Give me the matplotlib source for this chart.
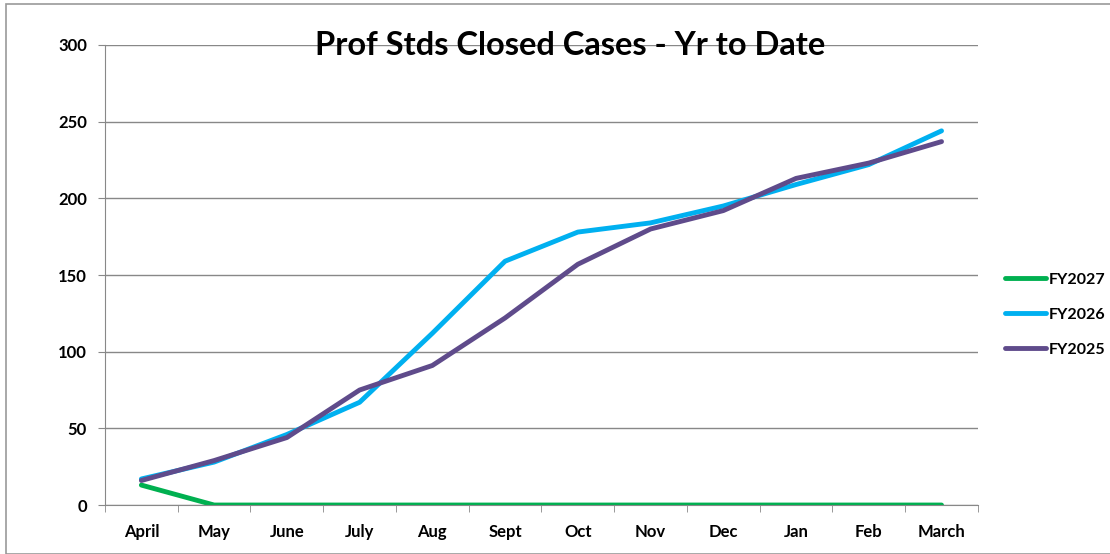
import matplotlib.pyplot as plt
from matplotlib.patches import Rectangle

months = ['April', 'May', 'June', 'July', 'Aug', 'Sept', 'Oct', 'Nov', 'Dec', 'Jan', 'Feb', 'March']
fy2027 = [13, 0, 0, 0, 0, 0, 0, 0, 0, 0, 0, 0]
fy2026 = [17, 28, 46, 67, 112, 159, 178, 184, 195, 209, 222, 244]
fy2025 = [16, 29, 44, 75, 91, 122, 157, 180, 192, 213, 223, 237]

plt.rcParams['font.family'] = ['Lato', 'DejaVu Sans']

fig = plt.figure(figsize=(11.1, 5.54), dpi=100)
ax = fig.add_axes([0.0946, 0.0884, 0.7864, 0.8304])

x = range(len(months))
ax.plot(x, fy2027, color='#00b050', lw=3.5, label='FY2027', solid_capstyle='round')
ax.plot(x, fy2026, color='#00b0f0', lw=3.5, label='FY2026', solid_capstyle='round')
ax.plot(x, fy2025, color='#5f4b8b', lw=3.5, label='FY2025', solid_capstyle='round')

ax.set_xlim(-0.5, 11.5)
ax.set_ylim(0, 300)
ax.set_yticks(range(0, 301, 50))
ax.set_xticks(list(x))
ax.set_xticklabels(months, fontsize=12, fontweight='bold')
ax.set_xticks([i - 0.5 for i in range(13)], minor=True)
ax.tick_params(axis='x', which='major', length=0, pad=14)
ax.tick_params(axis='x', which='minor', length=5, color='#888888', direction='out')
ax.tick_params(axis='y', length=5, color='#888888', direction='out', labelsize=12, pad=8)
for lab in ax.get_yticklabels():
    lab.set_fontweight('bold')

ax.grid(axis='y', color='#888888', lw=1)
ax.set_axisbelow(True)
for s in ['top', 'right']:
    ax.spines[s].set_visible(False)
for s in ['left', 'bottom']:
    ax.spines[s].set_color('#888888')

fig.text(0.514, 0.917, 'Prof Stds Closed Cases - Yr to Date', ha='center', va='center',
         fontsize=23.5, fontweight='bold')

leg = ax.legend(loc='center left', bbox_to_anchor=(1.0235, 0.414), frameon=False,
                handlelength=2.6, handletextpad=0.15, labelspacing=1.3,
                borderpad=0.2, borderaxespad=0.2,
                prop={'weight': 'bold', 'size': 11.5})

fig.patches.append(Rectangle((0.005, 0.0), 1.2, 0.992, transform=fig.transFigure,
                             fill=False, edgecolor='#999999', lw=1.2))

fig.savefig('out.png')
